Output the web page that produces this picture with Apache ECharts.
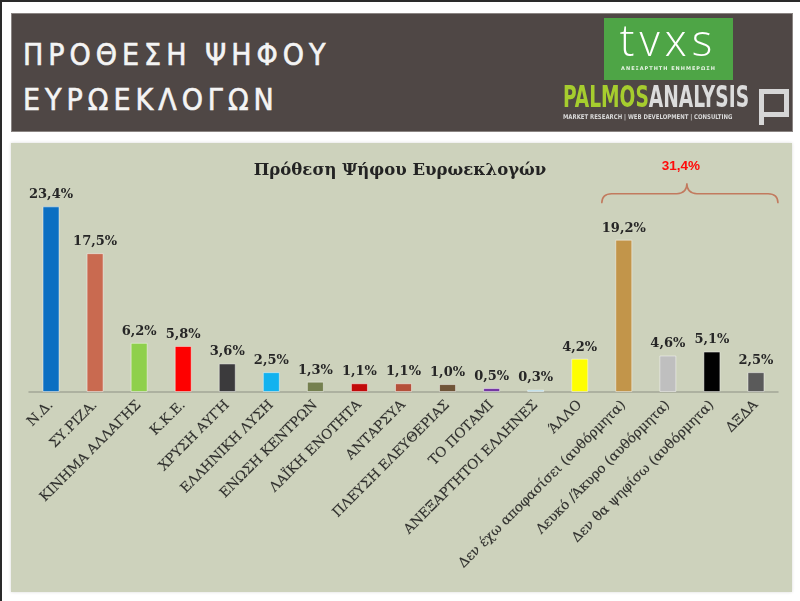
<!DOCTYPE html>
<html>
<head>
<meta charset="utf-8">
<script src="https://cdn.jsdelivr.net/npm/echarts@6/dist/echarts.min.js"></script>
<style>
  html, body { margin: 0; padding: 0; background: #ffffff; }
  #wrap { position: relative; width: 800px; height: 601px; overflow: hidden; background: #fff; }
  #chart { position: absolute; left: 0; top: 0; width: 800px; height: 601px; }
  .abs { position: absolute; }
</style>
</head>
<body>
<div id="wrap">
  <div id="chart"></div>
  <!-- frame strips -->
  <div class="abs" style="left:0;top:0;width:800px;height:2px;background:#2a2a2a"></div>
  <div class="abs" style="left:0;top:0;width:2px;height:601px;background:#2a2a2a"></div>
  <!-- header -->
  <div class="abs" style="left:11px;top:13px;width:782px;height:119px;background:#4f4745;border:1px solid #8a8482;box-sizing:border-box"></div>
  <div class="abs" style="left:23px;top:32px;font-family:'DejaVu Sans Condensed','DejaVu Sans',sans-serif;font-size:30px;line-height:45px;letter-spacing:5px;color:#f4f4f4;white-space:nowrap;-webkit-text-stroke:0.6px #f4f4f4">ΠΡΟΘΕΣΗ ΨΗΦΟΥ<br>ΕΥΡΩΕΚΛΟΓΩΝ</div>
  <!-- tvxs logo -->
  <div class="abs" style="left:604px;top:18px;width:129px;height:62px;background:#4ea546"></div>
  <div class="abs" style="left:604px;top:14px;width:129px;text-align:center;font-family:'Open Sans','DejaVu Sans',sans-serif;font-weight:300;font-size:44px;line-height:50px;letter-spacing:5px;color:#ffffff">tvxs</div>
  <div class="abs" style="left:604px;top:65px;width:129px;text-align:center;font-family:'DejaVu Sans',sans-serif;font-weight:bold;font-size:5px;line-height:6px;letter-spacing:1px;color:#e8f4e6">ΑΝΕΞΑΡΤΗΤΗ ΕΝΗΜΕΡΩΣΗ</div>
  <!-- palmos logo -->
  <div class="abs" style="left:563px;top:80px;font-family:'DejaVu Sans Condensed','DejaVu Sans',sans-serif;font-weight:bold;font-size:30px;line-height:34px;white-space:nowrap;transform:scaleX(0.69);transform-origin:0 0"><span style="color:#a6cd2e">PALMOS</span><span style="color:#dcdcdc">ANALYSIS</span></div>
  <div class="abs" style="left:563px;top:113px;font-family:'DejaVu Sans Condensed','DejaVu Sans',sans-serif;font-weight:bold;font-size:6.5px;line-height:8px;white-space:nowrap;color:#d8d8d8;transform:scaleX(0.92);transform-origin:0 0">MARKET RESEARCH | WEB DEVELOPMENT | CONSULTING</div>
  <div class="abs" style="left:759px;top:89px;width:20px;height:18px;border:5px solid #d6d6d6"></div>
  <div class="abs" style="left:759px;top:89px;width:5px;height:36px;background:#d6d6d6"></div>
</div>
<script>
// ---- data ----
const categories = [
  'Ν.Δ.', 'ΣΥ.ΡΙΖΑ.', 'ΚΙΝΗΜΑ ΑΛΛΑΓΗΣ', 'Κ.Κ.Ε.', 'ΧΡΥΣΗ ΑΥΓΗ', 'ΕΛΛΗΝΙΚΗ ΛΥΣΗ',
  'ΕΝΩΣΗ ΚΕΝΤΡΩΝ', 'ΛΑΪΚΗ ΕΝΟΤΗΤΑ', 'ΑΝΤΑΡΣΥΑ', 'ΠΛΕΥΣΗ ΕΛΕΥΘΕΡΙΑΣ', 'ΤΟ ΠΟΤΑΜΙ',
  'ΑΝΕΞΑΡΤΗΤΟΙ ΕΛΛΗΝΕΣ', 'ΆΛΛΟ', 'Δεν έχω αποφασίσει (αυθόρμητα)',
  'Λευκό /Άκυρο (αυθόρμητα)', 'Δεν θα ψηφίσω (αυθόρμητα)', 'ΔΞΔΑ'
];
const values = [23.4, 17.5, 6.2, 5.8, 3.6, 2.5, 1.3, 1.1, 1.1, 1.0, 0.5, 0.3, 4.2, 19.2, 4.6, 5.1, 2.5];
const barColors = [
  '#0b6fc2', '#c96a50', '#8fd04c', '#fe0000', '#3b3a3c', '#12b2ef',
  '#75804f', '#c20a0a', '#b5503a', '#6f5437', '#7436a3', '#a9d6ea',
  '#fefe00', '#c2954a', '#bfbfbf', '#020202', '#5a5a5a'
];
const bracketGroup = [13, 16]; // first and last category index under the bracket
const chartTitle = 'Πρόθεση Ψήφου Ευρωεκλογών';

const fmt = v => v.toFixed(1).replace('.', ',') + '%';
const groupSum = values.slice(bracketGroup[0], bracketGroup[1] + 1).reduce((a, b) => a + b, 0);

const chart = echarts.init(document.getElementById('chart'), null, { renderer: 'canvas' });

const option = {
  backgroundColor: 'transparent',
  animation: false,
  title: {
    text: chartTitle,
    left: 'center',
    top: 157,
    textStyle: { fontFamily: 'DejaVu Serif', fontSize: 16.5, fontWeight: 'bold', color: '#232323' }
  },
  graphic: [
    {
      type: 'rect', z: -10, silent: true,
      shape: { x: 11, y: 143, width: 781, height: 449 },
      style: { fill: '#cdd2bc', shadowBlur: 3, shadowColor: 'rgba(0,0,0,0.15)' }
    }
  ],
  grid: { left: 29, right: 22, top: 154, bottom: 209, containLabel: false },
  xAxis: {
    type: 'category',
    data: categories,
    axisLine: { lineStyle: { color: '#a2a697', width: 1.5 } },
    axisTick: { show: false },
    axisLabel: {
      interval: 0, rotate: 45, margin: 11,
      fontFamily: 'DejaVu Serif', fontSize: 13.5, color: '#2e2e2c',
      textBorderColor: 'rgba(46,46,44,0.35)', textBorderWidth: 0.4
    }
  },
  yAxis: { type: 'value', min: 0, max: 30, show: false, splitLine: { show: false } },
  series: [
    {
      type: 'bar',
      barWidth: 17,
      data: values.map((v, i) => ({ value: v, itemStyle: { color: barColors[i] } })),
      itemStyle: { borderColor: 'rgba(255,255,255,0.45)', borderWidth: 1 },
      label: {
        show: true, position: 'top', distance: 5,
        formatter: p => fmt(p.value),
        fontFamily: 'DejaVu Serif', fontWeight: 'bold', fontSize: 13, color: '#262626'
      }
    },
    {
      type: 'custom',
      coordinateSystem: 'cartesian2d',
      clip: false,
      silent: true,
      data: [[bracketGroup[0], bracketGroup[1]]],
      renderItem: function (params, api) {
        const i0 = api.value(0), i1 = api.value(1);
        const bw = api.size([1, 0])[0];
        const yEnd = api.coord([i0, 23.8])[1];
        const yMid = api.coord([i0, 25.0])[1];
        const yPeak = api.coord([i0, 26.3])[1];
        const yText = api.coord([i0, 28.5])[1];
        const left = api.coord([i0, 0])[0] - bw / 2;
        const right = api.coord([i1, 0])[0] + bw / 2;
        const px = (left + right) / 2 - 3;
        const r = 10;
        const d = 'M' + left + ' ' + yEnd +
          ' Q' + left + ' ' + yMid + ' ' + (left + r) + ' ' + yMid +
          ' L' + (px - r) + ' ' + yMid +
          ' Q' + px + ' ' + yMid + ' ' + px + ' ' + yPeak +
          ' Q' + px + ' ' + yMid + ' ' + (px + r) + ' ' + yMid +
          ' L' + (right - r) + ' ' + yMid +
          ' Q' + right + ' ' + yMid + ' ' + right + ' ' + yEnd;
        return {
          type: 'group',
          children: [
            { type: 'path', shape: { pathData: d }, style: { stroke: '#c27a5e', fill: null, lineWidth: 1.5 } },
            {
              type: 'text',
              style: {
                x: px - 6, y: yText, text: fmt(groupSum),
                fill: '#ff0a0a', align: 'center', verticalAlign: 'middle',
                font: 'bold 13.5px "Liberation Sans", Arial, sans-serif'
              }
            }
          ]
        };
      }
    }
  ]
};
chart.setOption(option);
</script>
</body>
</html>
